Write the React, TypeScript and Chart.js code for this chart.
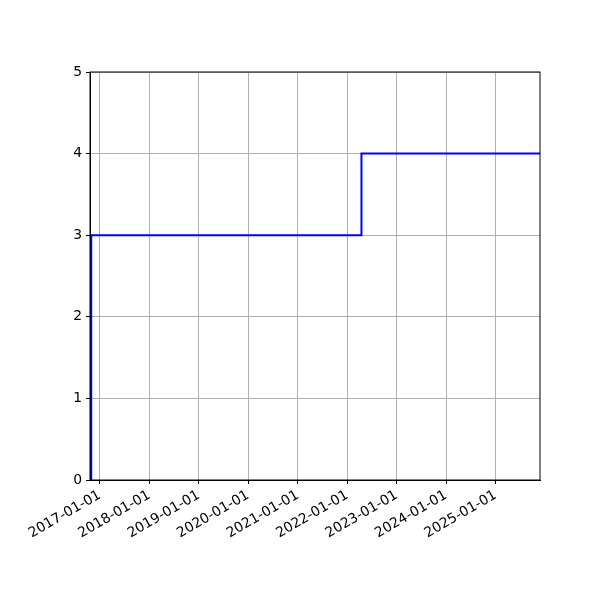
import React, { useEffect, useRef } from "react";
import { Chart, registerables } from "chart.js";

Chart.register(...registerables);

// Step series: dates and values
const stepDates = ["2016-10-29", "2016-10-29", "2022-04-16", "2025-11-24"];
const stepValues = [0, 3, 4, 4];

// Axis ranges
const xMinDate = "2016-10-20";
const xMaxDate = "2025-11-24";
const tickYears = [2017, 2018, 2019, 2020, 2021, 2022, 2023, 2024, 2025];
const yTicks = [0, 1, 2, 3, 4, 5];

const toMs = (s: string) => Date.parse(s + "T00:00:00Z");
const yearStart = (y: number) => Date.UTC(y, 0, 1);
const fmt = (ms: number) => {
  const d = new Date(ms);
  const mm = String(d.getUTCMonth() + 1).padStart(2, "0");
  const dd = String(d.getUTCDate()).padStart(2, "0");
  return `${d.getUTCFullYear()}-${mm}-${dd}`;
};

export default function App() {
  const ref = useRef<HTMLCanvasElement | null>(null);
  useEffect(() => {
    if (!ref.current) return;
    const font = { family: "'DejaVu Sans'", size: 13.9 };
    const chart = new Chart(ref.current, {
      type: "line",
      data: {
        datasets: [
          {
            data: stepDates.map((d, i) => ({ x: toMs(d), y: stepValues[i] })),
            borderColor: "#0000ff",
            borderWidth: 2,
            pointRadius: 0,
            stepped: "before",
            fill: false,
          },
        ],
      },
      options: {
        animation: false,
        responsive: false,
        maintainAspectRatio: false,
        layout: { padding: { left: 50, right: 60, top: 72, bottom: 50 } },
        plugins: { legend: { display: false }, tooltip: { enabled: false } },
        scales: {
          x: {
            type: "linear",
            min: toMs(xMinDate),
            max: toMs(xMaxDate),
            afterBuildTicks: (s: any) => {
              s.ticks = tickYears.map((y) => ({ value: yearStart(y) }));
            },
            afterFit: (s: any) => {
              s.height = 70;
            },
            ticks: {
              autoSkip: false,
              maxRotation: 30,
              minRotation: 30,
              color: "#000",
              font,
              padding: 3,
              callback: (v: any) => fmt(Number(v)),
            },
            grid: {
              color: "#b0b0b0",
              lineWidth: 1,
              drawTicks: true,
              tickLength: 4,
              tickColor: "#000",
            },
            border: { display: true, color: "#000", width: 1 },
          },
          y: {
            min: 0,
            max: 5,
            afterBuildTicks: (s: any) => {
              s.ticks = yTicks.map((v) => ({ value: v }));
            },
            afterFit: (s: any) => {
              s.width = 40;
            },
            ticks: { color: "#000", font, padding: 4 },
            grid: {
              color: "#b0b0b0",
              lineWidth: 1,
              drawTicks: true,
              tickLength: 4,
              tickColor: "#000",
            },
            border: { display: true, color: "#000", width: 1 },
          },
        },
      },
      plugins: [
        {
          id: "frame",
          afterDraw: (c: any) => {
            const { ctx, chartArea: a } = c;
            ctx.save();
            ctx.strokeStyle = "#000";
            ctx.lineWidth = 1;
            ctx.strokeRect(a.left, a.top, a.right - a.left, a.bottom - a.top);
            ctx.restore();
          },
        },
      ],
    });
    return () => chart.destroy();
  }, []);
  return (
    <div style={{ position: "absolute", left: 0, top: 0, width: 600, height: 600, background: "#fff" }}>
      <canvas ref={ref} width={600} height={600} style={{ width: 600, height: 600 }} />
    </div>
  );
}
